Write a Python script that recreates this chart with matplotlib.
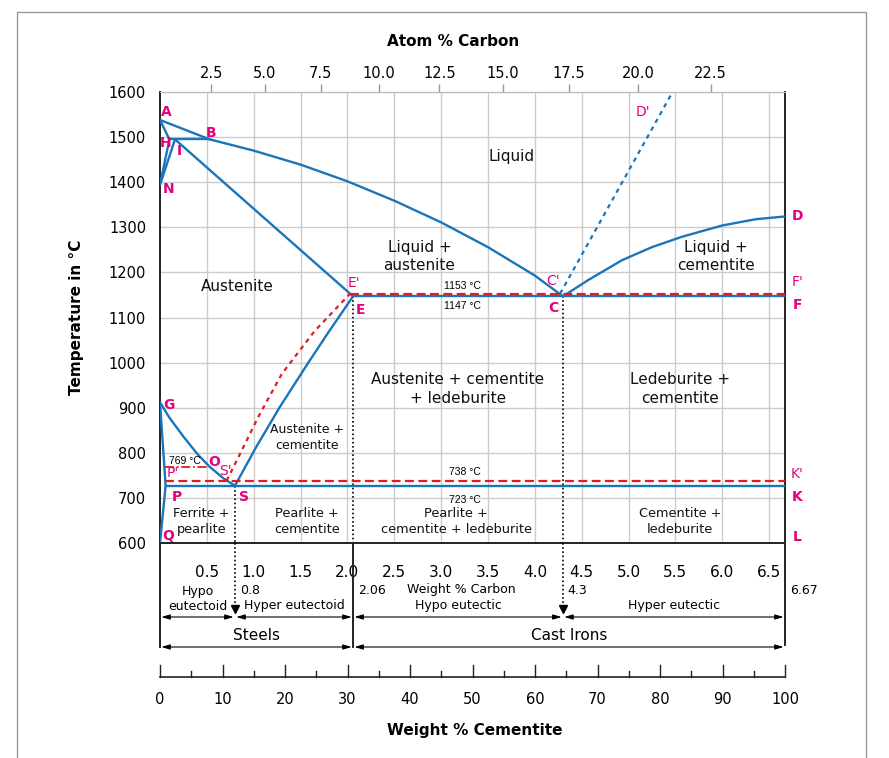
import matplotlib.pyplot as plt
import matplotlib.patches as mpatches
import numpy as np

# Fe-C diagram, values (wt% C, temperature in C)
ah_wt, ah_t = [0.0, 0.1], [1538, 1495]
hn_wt, hn_t = [0.1, 0.0], [1495, 1394]
jn_wt, jn_t = [0.16, 0.0], [1495, 1394]
ab_wt, ab_t = [0.0, 0.53], [1538, 1495]
hb_wt, hb_t = [0.1, 0.53], [1495, 1495]
je_wt, je_t = [0.16, 2.06], [1495, 1147]
bc_wt = [0.53, 1.0, 1.5, 2.0, 2.5, 3.0, 3.5, 4.0, 4.3]
bc_t = [1495, 1470, 1439, 1402, 1359, 1311, 1256, 1193, 1147]
cd_wt = [4.3, 4.57, 4.93, 5.25, 5.57, 6.0, 6.36, 6.67]
cd_t = [1147, 1183, 1227, 1256, 1279, 1304, 1318, 1324]
ecf_wt, ecf_t = [2.06, 6.67], [1147, 1147]
es_wt = [0.8, 1.03, 1.28, 1.58, 1.8, 2.06]
es_t = [727, 814, 902, 999, 1068, 1147]
gos_wt = [0.0, 0.1, 0.25, 0.4, 0.53, 0.68, 0.8]
gos_t = [912, 878, 836, 797, 769, 743, 727]
qpg_wt, qpg_t = [0.0, 0.06, 0.0], [600, 727, 912]
psk_wt, psk_t = [0.06, 6.67], [727, 727]

# metastable / graphite lines
cd_dash_wt, cd_dash_t = [4.27, 5.47], [1153, 1600]
se_red_wt = [0.71, 0.86, 1.05, 1.3, 1.65, 2.03]
se_red_t = [738, 800, 880, 975, 1070, 1153]
ef_red_wt, ef_red_t = [2.03, 6.67], [1153, 1153]
sk_red_wt, sk_red_t = [0.05, 6.67], [738, 738]
po_red_wt, po_red_t = [0.05, 0.53], [769, 769]

wt_ticks = [0.5, 1.0, 1.5, 2.0, 2.5, 3.0, 3.5, 4.0, 4.5, 5.0, 5.5, 6.0, 6.5]
t_ticks = [600, 700, 800, 900, 1000, 1100, 1200, 1300, 1400, 1500, 1600]
at_ticks = [2.5, 5.0, 7.5, 10.0, 12.5, 15.0, 17.5, 20.0, 22.5]
cem_ticks = list(range(0, 101, 5))

eutectoid, max_austenite, eutectic, cementite = 0.8, 2.06, 4.3, 6.67

blue = '#1a75bb'
red = '#e31b23'
pink = '#e5007d'

W, H = 889, 758


def fbox(x0, y0, x1, y1):
    # pixel box -> figure fraction
    return [x0 / W, 1 - y1 / H, (x1 - x0) / W, (y1 - y0) / H]


def wt_to_at(w):
    w = np.asarray(w, dtype=float)
    c = w / 12.011
    return 100 * c / (c + (100 - w) / 55.845)


def at_to_wt(a):
    a = np.asarray(a, dtype=float)
    c = a * 12.011
    return 100 * c / (c + (100 - a) * 55.845)


fig = plt.figure(figsize=(W / 100, H / 100), dpi=100)
ax = fig.add_axes(fbox(160, 92, 785, 543))
low = fig.add_axes(fbox(160, 543, 785, H))

# main axes
ax.set_xlim(0, cementite)
ax.set_ylim(600, 1600)
ax.set_xticks(wt_ticks)
ax.set_xticklabels([f'{v:.1f}' for v in wt_ticks])
ax.set_yticks(t_ticks)
ax.grid(color='#cccccc', lw=1)
ax.set_axisbelow(True)
ax.tick_params(axis='both', length=0)
ax.tick_params(axis='x', pad=16, labelsize=11)
ax.tick_params(axis='y', pad=10, labelsize=10.5)
for s in ['left', 'right', 'bottom']:
    ax.spines[s].set_color('#222222')
    ax.spines[s].set_linewidth(1.4)
ax.spines['top'].set_color('#bbbbbb')

top = ax.secondary_xaxis('top', functions=(wt_to_at, at_to_wt))
top.set_xticks(at_ticks)
top.set_xticklabels([f'{v:.1f}' for v in at_ticks])
top.tick_params(length=6, width=1, color='#999999', pad=2, labelsize=10.5)
top.spines['top'].set_color('#bbbbbb')

lk = dict(color=blue, lw=1.7, solid_capstyle='round', solid_joinstyle='round', zorder=3)
for xs, ys in [(ah_wt, ah_t), (hn_wt, hn_t), (jn_wt, jn_t), (ab_wt, ab_t),
               (hb_wt, hb_t), (je_wt, je_t), (bc_wt, bc_t), (cd_wt, cd_t),
               (ecf_wt, ecf_t), (es_wt, es_t), (gos_wt, gos_t),
               (qpg_wt, qpg_t), (psk_wt, psk_t)]:
    ax.plot(xs, ys, **lk)

ax.plot(cd_dash_wt, cd_dash_t, color=blue, lw=1.6, ls=(0, (2, 2)), zorder=3)
ax.plot(se_red_wt, se_red_t, color=red, lw=1.6, ls=(0, (2, 2)), zorder=4)
ax.plot(ef_red_wt, ef_red_t, color=red, lw=1.6, ls=(0, (4, 2)), zorder=4)
ax.plot(sk_red_wt, sk_red_t, color=red, lw=1.6, ls=(0, (4, 2)), zorder=4)
ax.plot(po_red_wt, po_red_t, color=red, lw=1.3, ls=(0, (5, 1.5, 1, 1.5)), zorder=4)

# dotted drop lines
ax.plot([eutectoid, eutectoid], [727, 600], color='k', lw=1.2, ls=(0, (1, 1.5)), zorder=2)
ax.plot([max_austenite, max_austenite], [1147, 600], color='k', lw=1.2, ls=(0, (1, 1.5)), zorder=2)
ax.plot([eutectic, eutectic], [1147, 600], color='k', lw=1.2, ls=(0, (1, 1.5)), zorder=2)

# point letters
bold_pts = [('A', 0.07, 1555), ('B', 0.54, 1509), ('H', 0.06, 1488), ('I', 0.21, 1469),
            ('N', 0.09, 1386), ('G', 0.10, 906), ('P', 0.18, 701), ('Q', 0.09, 616),
            ('S', 0.90, 701), ('O', 0.58, 779), ('E', 2.14, 1117), ('C', 4.20, 1120),
            ('D', 6.80, 1324), ('F', 6.80, 1128), ('K', 6.80, 702), ('L', 6.80, 613)]
for name, x, y in bold_pts:
    ax.text(x, y, name, color=pink, fontsize=10, fontweight='bold', ha='center', va='center')
thin_pts = [("S'", 0.70, 760), ("P'", 0.14, 755), ("E'", 2.07, 1176), ("C'", 4.20, 1181),
            ("D'", 5.15, 1555), ("F'", 6.80, 1178), ("K'", 6.80, 753)]
for name, x, y in thin_pts:
    ax.text(x, y, name, color=pink, fontsize=10, ha='center', va='center')

# phase regions
regions = [('Liquid', 3.75, 1458, 11), ('Liquid +\naustenite', 2.77, 1235, 11),
           ('Liquid +\ncementite', 5.93, 1235, 11), ('Austenite', 0.82, 1168, 11),
           ('Austenite + cementite\n+ ledeburite', 3.18, 941, 11),
           ('Ledeburite +\ncementite', 5.55, 941, 11),
           ('Austenite +\ncementite', 1.57, 835, 9),
           ('Ferrite +\npearlite', 0.44, 647, 9.3),
           ('Pearlite +\ncementite', 1.57, 647, 9.3),
           ('Pearlite +\ncementite + ledeburite', 3.16, 647, 9.3),
           ('Cementite +\nledeburite', 5.55, 647, 9.3)]
for txt, x, y, fs in regions:
    ax.text(x, y, txt, fontsize=fs, ha='center', va='center', linespacing=1.3, color='#111111')

temps = [('1153 °C', 3.23, 1170), ('1147 °C', 3.23, 1125), ('738 °C', 3.25, 757),
         ('723 °C', 3.25, 695), ('769 °C', 0.27, 782)]
for txt, x, y in temps:
    ax.text(x, y, txt, fontsize=7.5, family='Liberation Sans', ha='center', va='center')

# lower band: composition ranges and cementite scale (y is in pixels from top)
low.set_xlim(0, cementite)
low.set_ylim(H, 543)
low.axis('off')
low.plot([0, 0], [543, 647], color='#222222', lw=1.4, clip_on=False)
low.plot([cementite, cementite], [543, 645], color='#222222', lw=1.4, clip_on=False)
low.plot([max_austenite, max_austenite], [543, 647], color='#222222', lw=1.4)
for xv in [eutectoid, eutectic]:
    low.plot([xv, xv], [543, 608], color='k', lw=1.2, ls=(0, (1, 1.5)))
    low.plot([xv], [609], marker='v', color='k', markersize=6)

arrow = dict(arrowstyle='<|-|>,head_length=0.5,head_width=0.15', lw=0.8, color='k',
             shrinkA=1, shrinkB=1)
for x0, x1 in [(0, eutectoid), (eutectoid, max_austenite), (max_austenite, eutectic),
               (eutectic, cementite)]:
    low.annotate('', xy=(x1, 617), xytext=(x0, 617), arrowprops=arrow)
for x0, x1 in [(0, max_austenite), (max_austenite, cementite)]:
    low.annotate('', xy=(x1, 647), xytext=(x0, 647), arrowprops=arrow)

fs = 9
low.text(eutectoid / 2, 591, 'Hypo', fontsize=fs, ha='center', va='center')
low.text(eutectoid / 2, 606, 'eutectoid', fontsize=fs, ha='center', va='center')
low.text((eutectoid + max_austenite) / 2, 606, 'Hyper eutectoid', fontsize=fs, ha='center', va='center')
low.text((max_austenite + eutectic) / 2, 606, 'Hypo eutectic', fontsize=fs, ha='center', va='center')
low.text((eutectic + cementite) / 2, 606, 'Hyper eutectic', fontsize=fs, ha='center', va='center')
low.text(eutectoid + 0.06, 590, '0.8', fontsize=fs, ha='left', va='center')
low.text(max_austenite + 0.05, 590, '2.06', fontsize=fs, ha='left', va='center')
low.text(eutectic + 0.05, 590, '4.3', fontsize=fs, ha='left', va='center')
low.text(cementite + 0.05, 590, '6.67', fontsize=fs, ha='left', va='center')
low.text(3.22, 590, 'Weight % Carbon', fontsize=fs, ha='center', va='center')
low.text(max_austenite / 2, 635, 'Steels', fontsize=11, ha='center', va='center')
low.text((max_austenite + cementite) / 2, 635, 'Cast Irons', fontsize=11, ha='center', va='center')

low.plot([0, cementite], [677, 677], color='#222222', lw=1.2, clip_on=False)
for c in cem_ticks:
    xv = c / 100 * cementite
    tl = 12 if c % 10 == 0 else 6
    low.plot([xv, xv], [677, 677 - tl], color='#222222', lw=1, clip_on=False)
    if c % 10 == 0:
        low.text(xv, 700, str(c), fontsize=10.5, ha='center', va='center')

fig.text(453 / W, 1 - 42 / H, 'Atom % Carbon', fontsize=11, fontweight='bold', ha='center', va='center')
fig.text(77 / W, 1 - 317 / H, 'Temperature in °C', fontsize=11, fontweight='bold',
         rotation=90, ha='center', va='center')
fig.text(475 / W, 1 - 731 / H, 'Weight % Cementite', fontsize=11, fontweight='bold',
         ha='center', va='center')

# thin frame round the picture, open at the bottom
fig.patches.append(mpatches.Rectangle((17 / W, -0.05), (866 - 17) / W, 1.05 - 12 / H,
                                      transform=fig.transFigure, fill=False,
                                      edgecolor='#999999', lw=1))

fig.savefig('out.png', dpi=100)
